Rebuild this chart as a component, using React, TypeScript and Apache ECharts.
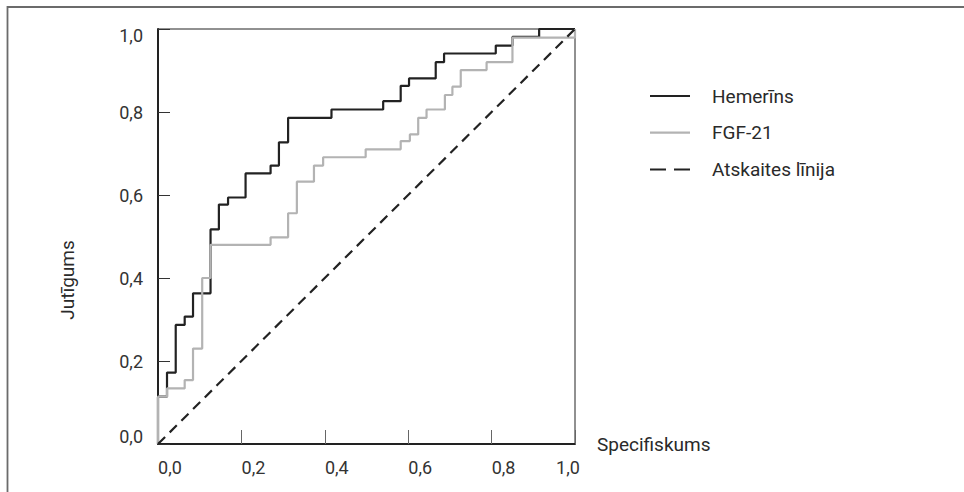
import React, { useEffect, useRef } from "react";
import * as echarts from "echarts";

// ROC step points: x = 1 - specificity where the curve jumps, y = new sensitivity level
const hemerinsX = [0, 0, 0.0216, 0.0425, 0.064, 0.084, 0.126, 0.146, 0.168, 0.21, 0.27, 0.29, 0.312, 0.416, 0.54, 0.582, 0.602, 0.666, 0.686, 0.81, 0.85, 0.914, 1.0];
const hemerinsY = [0, 0.114, 0.172, 0.287, 0.307, 0.363, 0.517, 0.577, 0.594, 0.652, 0.671, 0.727, 0.786, 0.806, 0.826, 0.863, 0.881, 0.92, 0.941, 0.96, 0.981, 1.0, 1.0];

const fgfX = [0, 0, 0.0216, 0.064, 0.084, 0.106, 0.126, 0.27, 0.312, 0.333, 0.374, 0.396, 0.498, 0.582, 0.604, 0.624, 0.644, 0.688, 0.706, 0.726, 0.788, 0.85, 1.0];
const fgfY = [0, 0.114, 0.134, 0.154, 0.23, 0.4, 0.48, 0.498, 0.556, 0.632, 0.671, 0.691, 0.71, 0.73, 0.746, 0.786, 0.806, 0.841, 0.861, 0.901, 0.92, 0.979, 1.0];

const refX = [0, 1];
const refY = [0, 1];

const seriesNames = ["Hemerīns", "FGF-21", "Atskaites līnija"];
const xAxisTitle = "Specifiskums";
const yAxisTitle = "Jutīgums";

const zip = (xs: number[], ys: number[]) => xs.map((x, i) => [x, ys[i]]);
const fmt = (v: number) => v.toFixed(1).replace(".", ",");

export default function App() {
  const ref = useRef<HTMLDivElement>(null);
  useEffect(() => {
    if (!ref.current) return;
    const chart = echarts.init(ref.current, undefined, { renderer: "svg" });
    const font = "Roboto";
    chart.setOption({
      animation: false,
      backgroundColor: "#ffffff",
      textStyle: { fontFamily: font },
      grid: {
        left: 158,
        top: 29,
        width: 417,
        height: 415,
        show: true,
        borderColor: "#222",
        borderWidth: 1,
      },
      legend: {
        orient: "vertical",
        left: 645,
        top: 80,
        itemWidth: 40,
        itemHeight: 2.2,
        itemGap: 14.7,
        textStyle: {
          fontFamily: font,
          fontSize: 19,
          color: "#2a2a2a",
          lineHeight: 22,
          padding: [0, 0, 0, 17],
        },
        data: [
          { name: seriesNames[0], icon: "rect" },
          { name: seriesNames[1], icon: "rect" },
          { name: seriesNames[2], icon: "path://M0,0h16v2h-16z M24,0h16v2h-16z" },
        ],
      },
      xAxis: {
        type: "value",
        min: 0,
        max: 1,
        interval: 0.2,
        name: xAxisTitle,
        nameLocation: "end",
        nameGap: 22,
        nameTextStyle: {
          fontFamily: font,
          fontSize: 19,
          color: "#2a2a2a",
          align: "left",
          verticalAlign: "middle",
          padding: [0, 0, 4, 0],
        },
        axisLine: { show: true, onZero: false, lineStyle: { color: "#222", width: 2 } },
        axisTick: { show: true, inside: true, length: 14, lineStyle: { color: "#666", width: 1 } },
        splitLine: { show: false },
        axisLabel: {
          margin: 14,
          fontFamily: font,
          fontSize: 18,
          color: "#333",
          formatter: (v: number) => (v >= 1 ? `{e|${fmt(v)}}` : `{s|${fmt(v)}}`),
          rich: {
            s: { fontFamily: font, fontSize: 18, color: "#333", padding: [0, 0, 0, 24] },
            e: { fontFamily: font, fontSize: 18, color: "#333", padding: [0, 14, 0, 0] },
          },
        },
      },
      yAxis: {
        type: "value",
        min: 0,
        max: 1,
        interval: 0.2,
        axisLine: { show: true, onZero: false, lineStyle: { color: "#222", width: 2 } },
        axisTick: { show: true, inside: true, length: 12, lineStyle: { color: "#333", width: 1 } },
        splitLine: { show: false },
        axisLabel: {
          margin: 15,
          fontFamily: font,
          fontSize: 18,
          color: "#333",
          formatter: (v: number) =>
            v >= 1 ? `{t|${fmt(v)}}` : v <= 0 ? `{b|${fmt(v)}}` : `{m|${fmt(v)}}`,
          rich: {
            m: { fontFamily: font, fontSize: 18, color: "#333" },
            t: { fontFamily: font, fontSize: 18, color: "#333", padding: [12, 0, 0, 0] },
            b: { fontFamily: font, fontSize: 18, color: "#333", padding: [0, 0, 16, 0] },
          },
        },
      },
      series: [
        {
          name: seriesNames[0],
          type: "line",
          step: "end",
          symbol: "none",
          data: zip(hemerinsX, hemerinsY),
          lineStyle: { color: "#222", width: 2.2 },
          itemStyle: { color: "#222" },
          z: 2,
        },
        {
          name: seriesNames[1],
          type: "line",
          step: "end",
          symbol: "none",
          data: zip(fgfX, fgfY),
          lineStyle: { color: "#b3b3b3", width: 2.2 },
          itemStyle: { color: "#b3b3b3" },
          z: 3,
        },
        {
          name: seriesNames[2],
          type: "line",
          symbol: "none",
          data: zip(refX, refY),
          lineStyle: { color: "#222", width: 2.2, type: [10, 6.5] },
          itemStyle: { color: "#222" },
          z: 4,
        },
      ],
      graphic: [
        {
          type: "rect",
          shape: { x: 7.5, y: 7, width: 1200, height: 800 },
          style: { fill: "none", stroke: "#6b6b6b", lineWidth: 1.8 },
          silent: true,
        },
        {
          type: "text",
          x: 67,
          y: 280,
          rotation: Math.PI / 2,
          style: {
            text: yAxisTitle,
            fontFamily: font,
            fontSize: 19,
            fill: "#2a2a2a",
            textAlign: "center",
            textVerticalAlign: "middle",
          },
        },
      ],
    });
    return () => chart.dispose();
  }, []);
  return (
    <div
      ref={ref}
      style={{ position: "fixed", left: 0, top: 0, width: 964, height: 492 }}
    />
  );
}
